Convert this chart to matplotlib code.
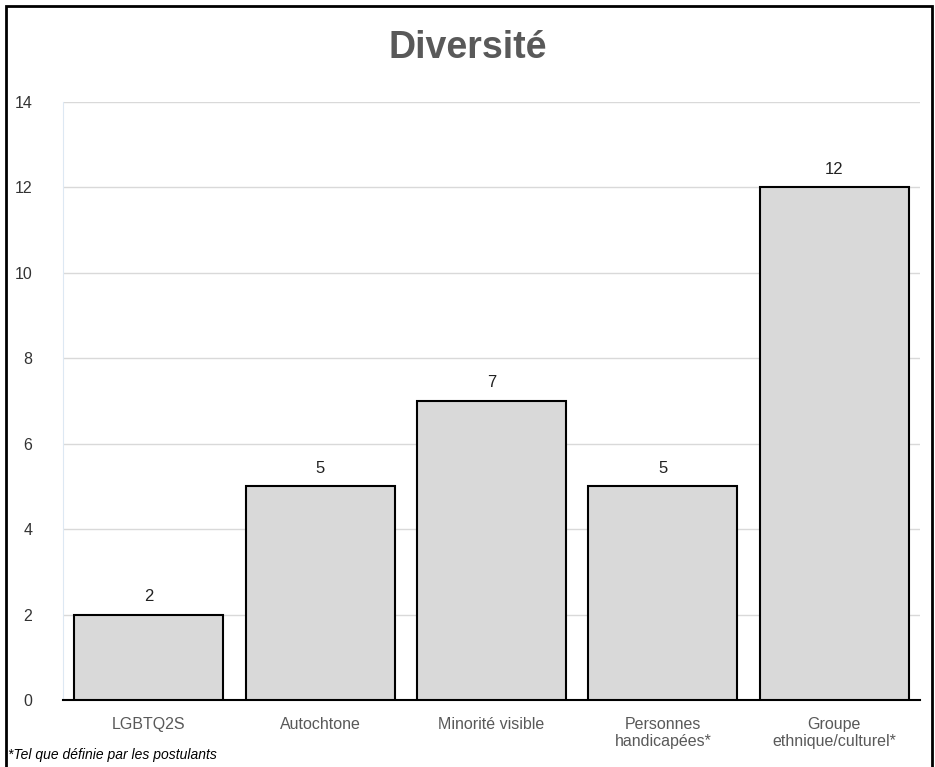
import matplotlib
matplotlib.use("Agg")
import matplotlib.pyplot as plt
from matplotlib.patches import Rectangle

categories = ["LGBTQ2S", "Autochtone", "Minorité visible",
              "Personnes\nhandicapées*", "Groupe\nethnique/culturel*"]
counts = [2, 5, 7, 5, 12]
yticks = [0, 2, 4, 6, 8, 10, 12, 14]

plt.rcParams['font.family'] = ['Liberation Sans', 'DejaVu Sans']

fig = plt.figure(figsize=(9.35, 7.67), dpi=100)
ax = fig.add_axes([0.0674, 0.0874, 0.9166, 0.7796])

# cadre autour du graphique (ouvert en bas)
fig.patches.append(Rectangle((0.006, -0.05), 0.991, 1.042, transform=fig.transFigure,
                             fill=False, edgecolor="black", linewidth=2))

x = range(len(categories))
bars = ax.bar(x, counts, width=0.87, color="#d9d9d9", edgecolor="black", linewidth=1.5, zorder=3)
for b, v in zip(bars, counts):
    ax.text(b.get_x() + b.get_width() / 2, v + 0.25, str(v), ha="center", va="bottom",
            fontsize=12, color="#222222")

ax.set_xlim(-0.5, len(categories) - 0.5)
ax.set_ylim(0, 14)
ax.set_yticks(yticks)
ax.set_xticks(list(x))
ax.set_xticklabels(categories, fontsize=11.5, color="#595959")
ax.tick_params(axis="y", labelsize=11.5, colors="#333333", length=0, pad=22)
ax.tick_params(axis="x", length=0, pad=12)
ax.grid(axis="y", color="#d9d9d9", linewidth=1, zorder=0)

for s in ["top", "right"]:
    ax.spines[s].set_visible(False)
ax.spines["left"].set_color("#dde8f3")
ax.spines["bottom"].set_color("black")
ax.spines["bottom"].set_linewidth(1.5)

fig.text(0.5, 0.937, "Diversité", ha="center", va="center", fontsize=27,
         fontweight="bold", color="#595959")
fig.text(0.009, 0.015, "*Tel que définie par les postulants", ha="left", va="center",
         fontsize=10, style="italic", color="black")

fig.savefig("out.png", dpi=100)
